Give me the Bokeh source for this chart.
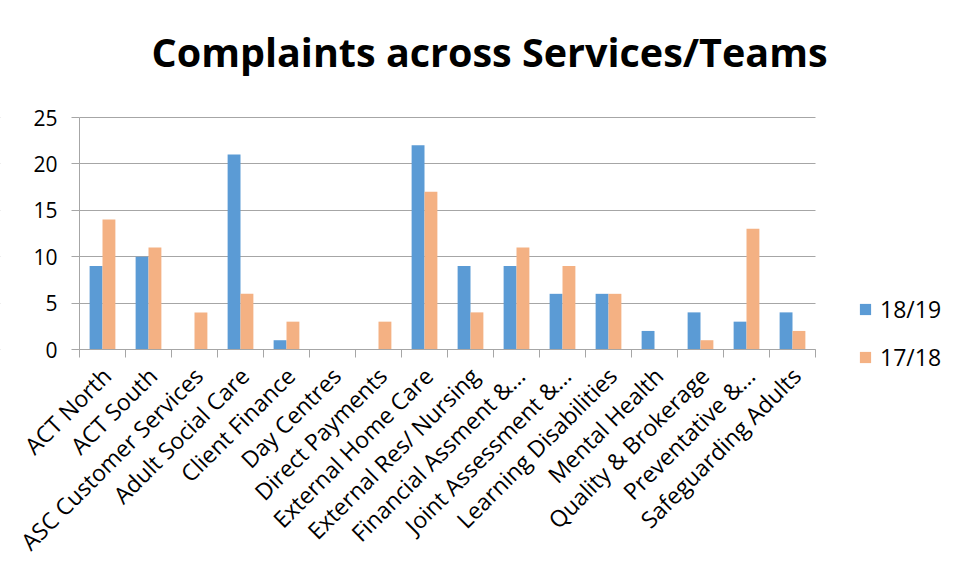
import math
from bokeh.plotting import figure
from bokeh.models import (ColumnDataSource, Range1d, FixedTicker, Legend, LegendItem,
                          BoxAnnotation)
from bokeh.embed import file_html
from bokeh.resources import INLINE

categories = ["ACT North", "ACT South", "ASC Customer Services", "Adult Social Care",
              "Client Finance", "Day Centres", "Direct Payments", "External Home Care",
              "External Res/ Nursing", "Financial Assment &...", "Joint Assessment &...",
              "Learning Disabilities", "Mental Health", "Quality & Brokerage",
              "Preventative &...", "Safeguarding Adults"]
s1819 = [9, 10, 0, 21, 1, 0, 0, 22, 9, 9, 6, 6, 2, 4, 3, 4]
s1718 = [14, 11, 4, 6, 3, 0, 3, 17, 4, 11, 9, 6, 0, 1, 13, 2]
series_names = ["18/19", "17/18"]
colors = ["#5B9BD5", "#F4B183"]
y_ticks = [0, 5, 10, 15, 20, 25]

n = len(categories)
YMAX = 25

# layout (pixels): the frame covers the whole figure below the title,
# axes sit at x = 0 / y = 0 inside it
PLOT_W, PLOT_H = 736, 232          # data area for categories / 0..25
LEFT, RIGHT = 79, 135              # room for y labels / legend
TOP, BELOW = 16, 215               # room above 25 / below 0 (x labels)
FRAME_W = LEFT + PLOT_W + RIGHT
FRAME_H = TOP + PLOT_H + BELOW
PX = n / PLOT_W                    # data units per pixel (x)
PY = YMAX / PLOT_H                 # data units per pixel (y)
x_start, x_end = -LEFT * PX, n + RIGHT * PX
y_start, y_end = -BELOW * PY, YMAX + TOP * PY

centers = [i + 0.5 for i in range(n)]
label_pos = [c + 4 * PX for c in centers]
bw = 0.28
src = ColumnDataSource(dict(
    xa=[c - bw / 2 for c in centers],
    xb=[c + bw / 2 for c in centers],
    a=s1819, b=s1718))

FONT = "Open Sans"
p = figure(frame_width=FRAME_W, frame_height=FRAME_H, output_backend="svg",
           toolbar_location=None,
           x_range=Range1d(x_start, x_end), y_range=Range1d(y_start, y_end),
           min_border_left=0, min_border_right=0, min_border_top=116 - TOP,
           min_border_bottom=0)
p.outline_line_color = None
p.background_fill_color = "white"
p.border_fill_color = "white"

r1 = p.vbar(x="xa", top="a", width=bw, source=src, fill_color=colors[0], line_color=None)
r2 = p.vbar(x="xb", top="b", width=bw, source=src, fill_color=colors[1], line_color=None)

# title
p.title.text = "Complaints across Services/Teams"
p.title.text_font = FONT
p.title.text_font_style = "bold"
p.title.text_font_size = "39.5px"
p.title.align = "left"
p.title.offset = 151
p.title.standoff = 61 - TOP
p.title.text_color = "black"

# y axis at x = 0
yax = p.yaxis[0]
yax.fixed_location = 0
yax.ticker = FixedTicker(ticks=y_ticks)
yax.bounds = (0, YMAX)
yax.axis_line_color = "#A6A6A6"
yax.major_tick_line_color = "#A6A6A6"
yax.major_tick_out = 8
yax.major_tick_in = 0
yax.minor_tick_line_color = None
yax.major_label_text_font = FONT
yax.major_label_text_font_size = "21px"
yax.major_label_text_color = "black"
yax.major_label_standoff = 14

p.ygrid.ticker = FixedTicker(ticks=y_ticks)
p.ygrid.grid_line_color = "#A6A6A6"
p.ygrid.grid_line_width = 1
p.xgrid.grid_line_color = None

# hide grid lines outside the category area
p.add_layout(BoxAnnotation(left=n, fill_color="white", fill_alpha=1,
                           line_color=None, level="underlay"))
p.add_layout(BoxAnnotation(right=0, fill_color="white", fill_alpha=1,
                           line_color=None, level="underlay"))

# x axis at y = 0: labels at centers, ticks between categories
xax = p.xaxis[0]
xax.fixed_location = 0
xax.bounds = (0, n)
xax.ticker = FixedTicker(ticks=label_pos, minor_ticks=list(range(n + 1)))
xax.major_label_overrides = {c: name for c, name in zip(label_pos, categories)}
xax.major_label_orientation = math.pi / 4
xax.major_tick_line_color = None
xax.minor_tick_line_color = "#A6A6A6"
xax.minor_tick_out = 8
xax.minor_tick_in = 0
xax.axis_line_color = "#A6A6A6"
xax.major_label_text_font = FONT
xax.major_label_text_font_size = "23px"
xax.major_label_text_color = "black"
xax.major_label_standoff = 14

legend = Legend(items=[LegendItem(label=series_names[0], renderers=[r1]),
                       LegendItem(label=series_names[1], renderers=[r2])],
                location=(LEFT + PLOT_W + 43, 191), orientation="vertical")
legend.border_line_color = None
legend.background_fill_alpha = 0
legend.padding = 0
legend.margin = 0
legend.spacing = 16
legend.glyph_width = 14
legend.glyph_height = 14
legend.label_height = 24
legend.label_standoff = 8
legend.label_text_font = FONT
legend.label_text_font_size = "23px"
legend.label_text_color = "black"
p.add_layout(legend, "center")

open("out.html", "w").write(file_html(p, INLINE))
